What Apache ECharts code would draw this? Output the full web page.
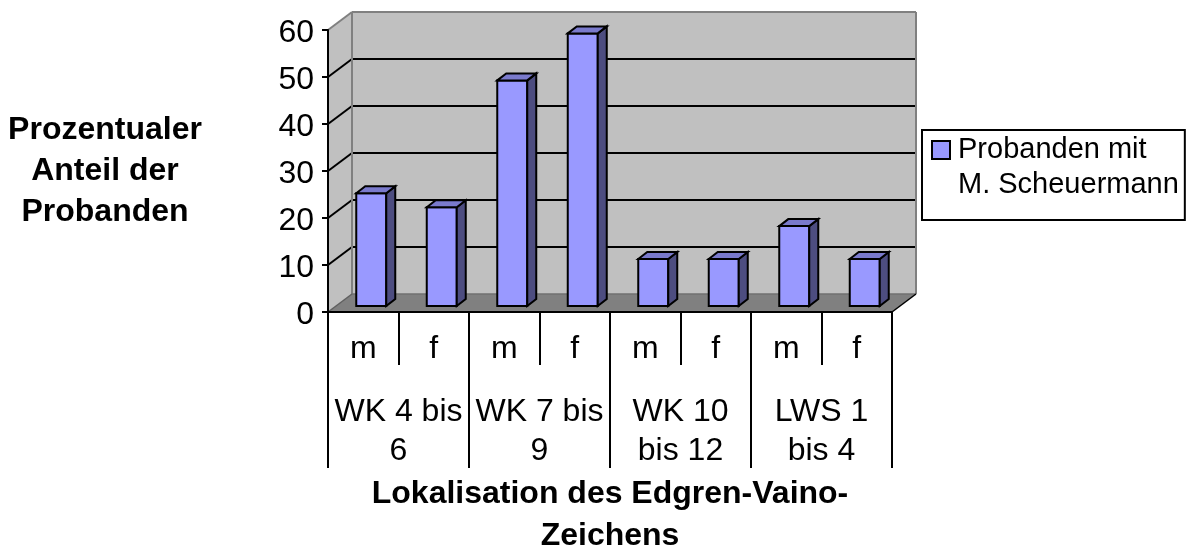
<!DOCTYPE html>
<html>
<head>
<meta charset="utf-8">
<style>html,body{margin:0;padding:0;background:#fff}#chart{width:1190px;height:547px}</style>
<script src="https://cdn.jsdelivr.net/npm/echarts@6/dist/echarts.min.js"></script>
</head>
<body>
<div id="chart"></div>
<script>
var sexLabels = ['m', 'f', 'm', 'f', 'm', 'f', 'm', 'f'];
var groupLabels = ['WK 4 bis\n6', 'WK 7 bis\n9', 'WK 10\nbis 12', 'LWS 1\nbis 4'];
var values = [24, 21, 48, 58, 10, 10, 17, 10];
var yTicks = [0, 10, 20, 30, 40, 50, 60];
var seriesName = 'Probanden mit\nM. Scheuermann';

// pseudo 3d: how far the back wall sits behind the axis plane
var wallDx = 24, wallDy = 18;
var barDx = 9, barDy = 7, barGapDx = 8, barGapDy = 6, barWidth = 30;
var font = '"Liberation Sans", Arial, sans-serif';

var myChart = echarts.init(document.getElementById('chart'));

function poly(points, fill, stroke, width) {
    return {
        type: 'polygon',
        shape: { points: points },
        style: { fill: fill, stroke: stroke, lineWidth: width, lineJoin: 'miter' }
    };
}
function line(x1, y1, x2, y2, stroke, width) {
    return {
        type: 'line',
        shape: { x1: x1, y1: y1, x2: x2, y2: y2 },
        style: { stroke: stroke, lineWidth: width }
    };
}

function renderWalls(params, api) {
    var band = api.size([1, 0])[0];
    var left = api.coord([0, 0])[0] - band / 2;
    var right = api.coord([sexLabels.length - 1, 0])[0] + band / 2;
    var bottom = api.coord([0, 0])[1];
    var top = api.coord([0, 60])[1];
    var kids = [
        poly([[left, top], [left + wallDx, top - wallDy], [left + wallDx, bottom - wallDy], [left, bottom]], '#c0c0c0', 'none', 0),
        poly([[left + wallDx, top - wallDy], [right + wallDx, top - wallDy], [right + wallDx, bottom - wallDy], [left + wallDx, bottom - wallDy]], '#c0c0c0', 'none', 0)
    ];
    yTicks.forEach(function (t) {
        if (t === 0 || t === 60) return;
        var y = api.coord([0, t])[1];
        kids.push(line(left, y, left + wallDx, y - wallDy, '#000', 2));
        kids.push(line(left + wallDx, y - wallDy, right + wallDx, y - wallDy, '#000', 2));
    });
    kids.push(poly([[left, bottom], [left + wallDx, bottom - wallDy], [right + wallDx, bottom - wallDy], [right, bottom]], '#808080', 'none', 0));
    kids.push(line(left, top, left + wallDx, top - wallDy, '#808080', 2));
    kids.push(line(left + wallDx, top - wallDy, right + wallDx, top - wallDy, '#808080', 2));
    kids.push(line(left + wallDx, top - wallDy, left + wallDx, bottom - wallDy, '#808080', 2));
    kids.push(line(right + wallDx, top - wallDy, right + wallDx, bottom - wallDy, '#808080', 2));
    kids.push(line(left + wallDx, bottom - wallDy, right + wallDx, bottom - wallDy, '#707070', 1.5));
    kids.push(line(left, bottom, left + wallDx, bottom - wallDy, '#606060', 1.5));
    kids.push(line(right, bottom, right + wallDx, bottom - wallDy, '#000', 1.5));
    return { type: 'group', children: kids };
}

function renderBar(params, api) {
    var c = api.coord([api.value(0), api.value(1)]);
    var base = api.coord([api.value(0), 0]);
    var x0 = c[0] - barWidth / 2 + barGapDx, x1 = x0 + barWidth;
    var yT = c[1] - barGapDy, yB = base[1] - barGapDy;
    var k = [
        poly([[x0, yT], [x1, yT], [x1, yB], [x0, yB]], api.visual('color'), '#000', 2),
        poly([[x1, yT], [x1 + barDx, yT - barDy], [x1 + barDx, yB - barDy], [x1, yB]], '#4d4d80', '#000', 2),
        poly([[x0, yT], [x0 + barDx, yT - barDy], [x1 + barDx, yT - barDy], [x1, yT]], '#7a7acc', '#000', 2)
    ];
    return { type: 'group', children: k };
}

option = {
    animation: false,
    backgroundColor: '#fff',
    textStyle: { fontFamily: font },
    grid: { left: 328, top: 30, width: 564, height: 282, outerBoundsMode: 'none' },
    legend: {
        left: 922,
        top: 130,
        orient: 'vertical',
        data: [seriesName],
        // invisible end points stretch the icon box so the square sits on the first text line
        icon: 'path://M0 0L0 0M0 9H18V27H0ZM0 70L0 70',
        itemWidth: 18,
        itemHeight: 70,
        itemGap: 0,
        padding: [1, 6, 17, 9],
        backgroundColor: '#fff',
        borderColor: '#000',
        borderWidth: 2,
        borderRadius: 0,
        textStyle: { fontFamily: font, fontSize: 29, lineHeight: 35, color: '#000', padding: [0, 0, 0, 3] }
    },
    xAxis: [
        {
            type: 'category',
            data: sexLabels,
            z: 5,
            axisLine: { lineStyle: { color: '#000', width: 2 } },
            axisTick: { show: true, length: 53, lineStyle: { color: '#000', width: 2 } },
            axisLabel: { interval: 0, margin: 21, fontSize: 32, color: '#000', fontFamily: font },
            name: 'Lokalisation des Edgren-Vaino-\nZeichens',
            nameLocation: 'middle',
            nameGap: 161,
            nameTextStyle: { fontFamily: font, fontSize: 32, fontWeight: 'bold', lineHeight: 42, color: '#000' }
        },
        {
            type: 'category',
            position: 'bottom',
            data: groupLabels,
            z: 5,
            axisLine: { show: false },
            axisTick: { show: true, length: 156, lineStyle: { color: '#000', width: 2 } },
            axisLabel: { interval: 0, margin: 81, fontSize: 32, lineHeight: 39, color: '#000', fontFamily: font }
        }
    ],
    yAxis: {
        type: 'value',
        min: 0,
        max: 60,
        interval: 10,
        z: 5,
        splitLine: { show: false },
        axisLine: { show: true, lineStyle: { color: '#000', width: 2 } },
        axisTick: { show: true, length: 6, lineStyle: { color: '#000', width: 2 } },
        axisLabel: { margin: 14, fontSize: 32, color: '#000', fontFamily: font, verticalAlign: 'top', lineHeight: 6 },
        name: 'Prozentualer\nAnteil der\nProbanden',
        nameLocation: 'middle',
        nameRotate: 0,
        nameGap: 223,
        nameTextStyle: { fontFamily: font, fontSize: 32, fontWeight: 'bold', lineHeight: 41, color: '#000', align: 'center' }
    },
    series: [
        {
            name: 'walls',
            type: 'custom',
            silent: true,
            z: 1,
            renderItem: renderWalls,
            data: [[0, 0]],
            encode: { x: 0, y: 1 }
        },
        {
            name: seriesName,
            type: 'custom',
            z: 2,
            itemStyle: { color: '#9999ff', borderColor: '#000', borderWidth: 2 },
            renderItem: renderBar,
            data: values.map(function (v, i) { return [i, v]; }),
            encode: { x: 0, y: 1 }
        }
    ]
};

myChart.setOption(option);
</script>
</body>
</html>
